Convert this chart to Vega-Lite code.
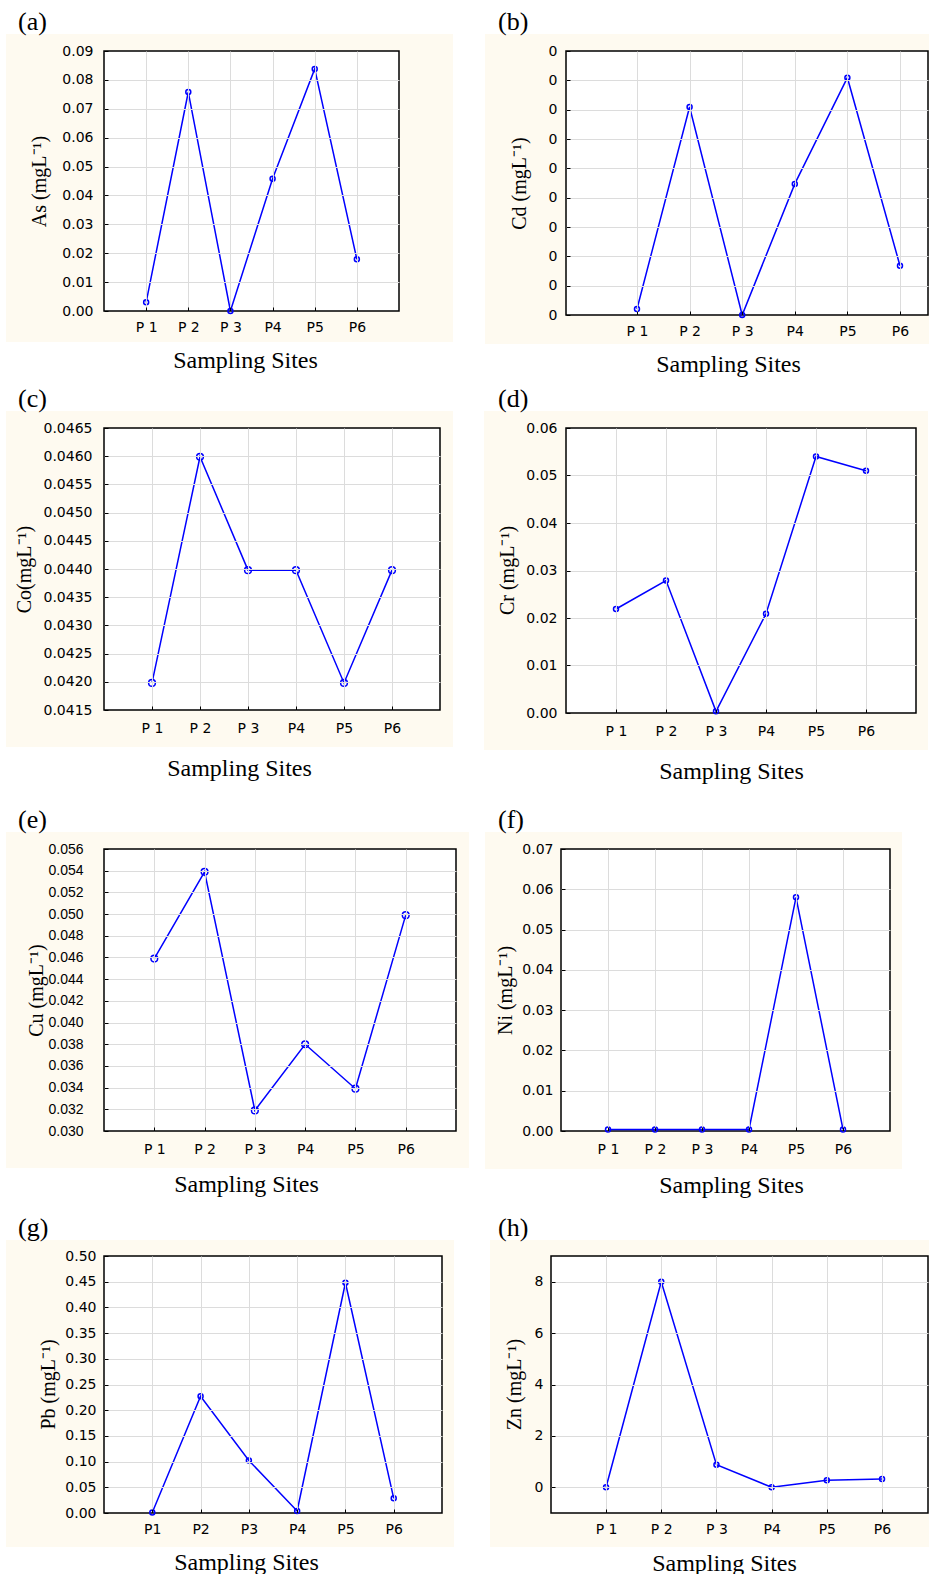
{
"$schema": "https://vega.github.io/schema/vega-lite/v6.json",
"background": "white",
"padding": {"left": 5, "top": 8, "right": 0, "bottom": 0},
"config": {
  "view": {"stroke": null, "fill": null},
  "axis": {"labelFont": "DejaVu Sans", "labelFontSize": 14, "labelColor": "#000000", "titleFont": "Liberation Serif", "titleFontWeight": "normal", "titleColor": "#000000", "gridColor": "#dcdcdc", "gridWidth": 1, "domain": false, "ticks": true, "tickSize": -4, "tickColor": "#000000", "tickWidth": 1, "labelOverlap": false, "labelFlush": false, "labelBound": false},
  "title": {"font": "Liberation Serif", "fontSize": 26, "fontWeight": "normal", "color": "#000000", "anchor": "start", "frame": "group", "baseline": "alphabetic", "offset": -1}
},
"spacing": 9,
"bounds": "full",
"vconcat": [
 {"spacing": 167, "bounds": "flush", "hconcat": [
  {"width": 295, "height": 260, "title": {"text": "(a)", "dx": -86},
   "data": {"values": [{"site":"P 1","As":0.003},{"site":"P 2","As":0.0758},{"site":"P 3","As":0},{"site":"P4","As":0.0458},{"site":"P5","As":0.0838},{"site":"P6","As":0.0179}]},
   "resolve": {"scale": {"x": "independent"}},
   "layer": [
    {"data": {"values": [{}]}, "layer": [
      {"mark": {"type": "rect", "fill": "#fefaf0"}, "encoding": {
        "x": {"datum": -0.3322, "type": "quantitative", "scale": {"domain": [0, 1], "nice": false, "zero": false}, "axis": null},
        "x2": {"datum": 1.1831},
        "y": {"datum": -0.01073, "type": "quantitative", "scale": {"domain": [0, 0.09], "nice": false, "zero": false},
              "axis": {"title": "As (mgL⁻¹)", "titleFontSize": 20, "titleAngle": 270, "titleX": -59, "titleY": 130, "titleAlign": "center", "titleBaseline": "alphabetic", "values": [0,0.01,0.02,0.03,0.04,0.05,0.06,0.07,0.08,0.09], "format": ".2f", "labelPadding": 15, "labelOverlap": false, "labelBaseline": "middle", "grid": true, "gridOpacity": {"condition": {"test": "datum.value < 0.0001 || datum.value > 0.0899", "value": 0}, "value": 1}, "zindex": 1}},
        "y2": {"datum": 0.09588}}},
      {"mark": {"type": "rect", "fill": "white", "stroke": "black", "strokeWidth": 1.5}, "encoding": {
        "x": {"datum": 0, "type": "quantitative", "scale": {"domain": [0, 1], "nice": false, "zero": false}, "axis": null},
        "x2": {"datum": 1},
        "y": {"datum": 0, "type": "quantitative", "scale": {"domain": [0, 0.09], "nice": false, "zero": false},
              "axis": {"title": "As (mgL⁻¹)", "titleFontSize": 20, "titleAngle": 270, "titleX": -59, "titleY": 130, "titleAlign": "center", "titleBaseline": "alphabetic", "values": [0,0.01,0.02,0.03,0.04,0.05,0.06,0.07,0.08,0.09], "format": ".2f", "labelPadding": 15, "labelOverlap": false, "labelBaseline": "middle", "grid": true, "gridOpacity": {"condition": {"test": "datum.value < 0.0001 || datum.value > 0.0899", "value": 0}, "value": 1}, "zindex": 1}},
        "y2": {"datum": 0.09}}}
    ]},
    {"encoding": {
      "x": {"field": "site", "type": "ordinal", "sort": null, "scale": {"type": "point", "padding": 1, "align": 0.5},
            "axis": {"title": "Sampling Sites", "titleFontSize": 24, "titleX": 141, "titleY": 37, "titleAlign": "center", "titleBaseline": "top", "labelAngle": 0, "labelPadding": 13, "labelOverlap": false, "grid": true, "zindex": 1}},
      "y": {"field": "As", "type": "quantitative", "scale": {"domain": [0, 0.09], "nice": false, "zero": false},
            "axis": {"title": "As (mgL⁻¹)", "titleFontSize": 20, "titleAngle": 270, "titleX": -59, "titleY": 130, "titleAlign": "center", "titleBaseline": "alphabetic", "values": [0,0.01,0.02,0.03,0.04,0.05,0.06,0.07,0.08,0.09], "format": ".2f", "labelPadding": 15, "labelOverlap": false, "labelBaseline": "middle", "grid": true, "gridOpacity": {"condition": {"test": "datum.value < 0.0001 || datum.value > 0.0899", "value": 0}, "value": 1}, "zindex": 1}}},
     "layer": [
      {"mark": {"type": "line", "color": "#0000ff", "strokeWidth": 1.5}},
      {"mark": {"type": "point", "shape": "circle", "filled": false, "color": "#0000ff", "strokeWidth": 1.5, "size": 25, "opacity": 1}}
     ]}
   ]},
  {"width": 362, "height": 264, "title": {"text": "(b)", "dx": -68},
   "data": {"values": [{"site":"P 1","Cd":0.000205},{"site":"P 2","Cd":0.00709},{"site":"P 3","Cd":0},{"site":"P4","Cd":0.00447},{"site":"P5","Cd":0.00809},{"site":"P6","Cd":0.00168}]},
   "resolve": {"scale": {"x": "independent"}},
   "layer": [
    {"data": {"values": [{}]}, "layer": [
      {"mark": {"type": "rect", "fill": "#fefaf0"}, "encoding": {
        "x": {"datum": -0.2238, "type": "quantitative", "scale": {"domain": [0, 1], "nice": false, "zero": false}, "axis": null},
        "x2": {"datum": 1.0055},
        "y": {"datum": -0.000989, "type": "quantitative", "scale": {"domain": [0, 0.009], "nice": false, "zero": false},
              "axis": {"title": "Cd (mgL⁻¹)", "titleFontSize": 20, "titleAngle": 270, "titleX": -41, "titleY": 132, "titleAlign": "center", "titleBaseline": "alphabetic", "values": [0,0.001,0.002,0.003,0.004,0.005,0.006,0.007,0.008,0.009], "format": ".0f", "labelPadding": 13, "labelOverlap": false, "labelBaseline": "middle", "grid": true, "gridOpacity": {"condition": {"test": "datum.value < 0.00001 || datum.value > 0.00899", "value": 0}, "value": 1}, "zindex": 1}},
        "y2": {"datum": 0.00958}}},
      {"mark": {"type": "rect", "fill": "white", "stroke": "black", "strokeWidth": 1.5}, "encoding": {
        "x": {"datum": 0, "type": "quantitative", "scale": {"domain": [0, 1], "nice": false, "zero": false}, "axis": null},
        "x2": {"datum": 1},
        "y": {"datum": 0, "type": "quantitative", "scale": {"domain": [0, 0.009], "nice": false, "zero": false},
              "axis": {"title": "Cd (mgL⁻¹)", "titleFontSize": 20, "titleAngle": 270, "titleX": -41, "titleY": 132, "titleAlign": "center", "titleBaseline": "alphabetic", "values": [0,0.001,0.002,0.003,0.004,0.005,0.006,0.007,0.008,0.009], "format": ".0f", "labelPadding": 13, "labelOverlap": false, "labelBaseline": "middle", "grid": true, "gridOpacity": {"condition": {"test": "datum.value < 0.00001 || datum.value > 0.00899", "value": 0}, "value": 1}, "zindex": 1}},
        "y2": {"datum": 0.009}}}
    ]},
    {"encoding": {
      "x": {"field": "site", "type": "ordinal", "sort": null, "scale": {"type": "point", "padding": 0.941, "align": 0.717},
            "axis": {"title": "Sampling Sites", "titleFontSize": 24, "titleX": 162, "titleY": 37, "titleAlign": "center", "titleBaseline": "top", "labelAngle": 0, "labelPadding": 13, "labelOverlap": false, "grid": true, "zindex": 1}},
      "y": {"field": "Cd", "type": "quantitative", "scale": {"domain": [0, 0.009], "nice": false, "zero": false},
            "axis": {"title": "Cd (mgL⁻¹)", "titleFontSize": 20, "titleAngle": 270, "titleX": -41, "titleY": 132, "titleAlign": "center", "titleBaseline": "alphabetic", "values": [0,0.001,0.002,0.003,0.004,0.005,0.006,0.007,0.008,0.009], "format": ".0f", "labelPadding": 13, "labelOverlap": false, "labelBaseline": "middle", "grid": true, "gridOpacity": {"condition": {"test": "datum.value < 0.00001 || datum.value > 0.00899", "value": 0}, "value": 1}, "zindex": 1}}},
     "layer": [
      {"mark": {"type": "line", "color": "#0000ff", "strokeWidth": 1.5}},
      {"mark": {"type": "point", "shape": "circle", "filled": false, "color": "#0000ff", "strokeWidth": 1.5, "size": 25, "opacity": 1}}
     ]}
   ]}
 ]},
 {"spacing": 126, "bounds": "flush", "hconcat": [
  {"width": 336, "height": 282, "title": {"text": "(c)", "dx": -86},
   "data": {"values": [{"site":"P 1","Co":0.04198},{"site":"P 2","Co":0.04599},{"site":"P 3","Co":0.04398},{"site":"P4","Co":0.04398},{"site":"P5","Co":0.04198},{"site":"P6","Co":0.04398}]},
   "resolve": {"scale": {"x": "independent"}},
   "layer": [
    {"data": {"values": [{}]}, "layer": [
      {"mark": {"type": "rect", "fill": "#fefaf0"}, "encoding": {
        "x": {"datum": -0.2917, "type": "quantitative", "scale": {"domain": [0, 1], "nice": false, "zero": false}, "axis": null},
        "x2": {"datum": 1.0387},
        "y": {"datum": 0.040844, "type": "quantitative", "scale": {"domain": [0.0415, 0.0465], "nice": false, "zero": false},
              "axis": {"title": "Co(mgL⁻¹)", "titleFontSize": 20, "titleAngle": 270, "titleX": -74, "titleY": 141, "titleAlign": "center", "titleBaseline": "alphabetic", "values": [0.0415,0.042,0.0425,0.043,0.0435,0.044,0.0445,0.045,0.0455,0.046,0.0465], "format": ".4f", "labelPadding": 16, "labelOverlap": false, "labelBaseline": "middle", "grid": true, "gridOpacity": {"condition": {"test": "datum.value < 0.04151 || datum.value > 0.04649", "value": 0}, "value": 1}, "zindex": 1}},
        "y2": {"datum": 0.046801}}},
      {"mark": {"type": "rect", "fill": "white", "stroke": "black", "strokeWidth": 1.5}, "encoding": {
        "x": {"datum": 0, "type": "quantitative", "scale": {"domain": [0, 1], "nice": false, "zero": false}, "axis": null},
        "x2": {"datum": 1},
        "y": {"datum": 0.0415, "type": "quantitative", "scale": {"domain": [0.0415, 0.0465], "nice": false, "zero": false},
              "axis": {"title": "Co(mgL⁻¹)", "titleFontSize": 20, "titleAngle": 270, "titleX": -74, "titleY": 141, "titleAlign": "center", "titleBaseline": "alphabetic", "values": [0.0415,0.042,0.0425,0.043,0.0435,0.044,0.0445,0.045,0.0455,0.046,0.0465], "format": ".4f", "labelPadding": 16, "labelOverlap": false, "labelBaseline": "middle", "grid": true, "gridOpacity": {"condition": {"test": "datum.value < 0.04151 || datum.value > 0.04649", "value": 0}, "value": 1}, "zindex": 1}},
        "y2": {"datum": 0.0465}}}
    ]},
    {"encoding": {
      "x": {"field": "site", "type": "ordinal", "sort": null, "scale": {"type": "point", "padding": 1, "align": 0.5},
            "axis": {"title": "Sampling Sites", "titleFontSize": 24, "titleX": 135, "titleY": 46, "titleAlign": "center", "titleBaseline": "top", "labelAngle": 0, "labelPadding": 15, "labelOverlap": false, "grid": true, "zindex": 1}},
      "y": {"field": "Co", "type": "quantitative", "scale": {"domain": [0.0415, 0.0465], "nice": false, "zero": false},
            "axis": {"title": "Co(mgL⁻¹)", "titleFontSize": 20, "titleAngle": 270, "titleX": -74, "titleY": 141, "titleAlign": "center", "titleBaseline": "alphabetic", "values": [0.0415,0.042,0.0425,0.043,0.0435,0.044,0.0445,0.045,0.0455,0.046,0.0465], "format": ".4f", "labelPadding": 16, "labelOverlap": false, "labelBaseline": "middle", "grid": true, "gridOpacity": {"condition": {"test": "datum.value < 0.04151 || datum.value > 0.04649", "value": 0}, "value": 1}, "zindex": 1}}},
     "layer": [
      {"mark": {"type": "line", "color": "#0000ff", "strokeWidth": 1.5}},
      {"mark": {"type": "point", "shape": "circle", "filled": false, "color": "#0000ff", "strokeWidth": 1.5, "size": 45, "opacity": 1}}
     ]}
   ]},
  {"width": 350, "height": 285, "title": {"text": "(d)", "dx": -68},
   "data": {"values": [{"site":"P 1","Cr":0.0219},{"site":"P 2","Cr":0.0279},{"site":"P 3","Cr":0.00035},{"site":"P4","Cr":0.0209},{"site":"P5","Cr":0.054},{"site":"P6","Cr":0.051}]},
   "resolve": {"scale": {"x": "independent"}},
   "layer": [
    {"data": {"values": [{}]}, "layer": [
      {"mark": {"type": "rect", "fill": "#fefaf0"}, "encoding": {
        "x": {"datum": -0.2343, "type": "quantitative", "scale": {"domain": [0, 1], "nice": false, "zero": false}, "axis": null},
        "x2": {"datum": 1.0343},
        "y": {"datum": -0.007789, "type": "quantitative", "scale": {"domain": [0, 0.06], "nice": false, "zero": false},
              "axis": {"title": "Cr (mgL⁻¹)", "titleFontSize": 20, "titleAngle": 270, "titleX": -53, "titleY": 142, "titleAlign": "center", "titleBaseline": "alphabetic", "values": [0,0.01,0.02,0.03,0.04,0.05,0.06], "format": ".2f", "labelPadding": 13, "labelOverlap": false, "labelBaseline": "middle", "grid": true, "gridOpacity": {"condition": {"test": "datum.value < 0.0001 || datum.value > 0.0599", "value": 0}, "value": 1}, "zindex": 1}},
        "y2": {"datum": 0.063579}}},
      {"mark": {"type": "rect", "fill": "white", "stroke": "black", "strokeWidth": 1.5}, "encoding": {
        "x": {"datum": 0, "type": "quantitative", "scale": {"domain": [0, 1], "nice": false, "zero": false}, "axis": null},
        "x2": {"datum": 1},
        "y": {"datum": 0, "type": "quantitative", "scale": {"domain": [0, 0.06], "nice": false, "zero": false},
              "axis": {"title": "Cr (mgL⁻¹)", "titleFontSize": 20, "titleAngle": 270, "titleX": -53, "titleY": 142, "titleAlign": "center", "titleBaseline": "alphabetic", "values": [0,0.01,0.02,0.03,0.04,0.05,0.06], "format": ".2f", "labelPadding": 13, "labelOverlap": false, "labelBaseline": "middle", "grid": true, "gridOpacity": {"condition": {"test": "datum.value < 0.0001 || datum.value > 0.0599", "value": 0}, "value": 1}, "zindex": 1}},
        "y2": {"datum": 0.06}}}
    ]},
    {"encoding": {
      "x": {"field": "site", "type": "ordinal", "sort": null, "scale": {"type": "point", "padding": 1, "align": 0.5},
            "axis": {"title": ["Sampling Sites", ""], "titleLineHeight": 14, "titleFontSize": 24, "titleX": 165, "titleY": 46, "titleAlign": "center", "titleBaseline": "top", "labelAngle": 0, "labelPadding": 15, "labelOverlap": false, "grid": true, "zindex": 1}},
      "y": {"field": "Cr", "type": "quantitative", "scale": {"domain": [0, 0.06], "nice": false, "zero": false},
            "axis": {"title": "Cr (mgL⁻¹)", "titleFontSize": 20, "titleAngle": 270, "titleX": -53, "titleY": 142, "titleAlign": "center", "titleBaseline": "alphabetic", "values": [0,0.01,0.02,0.03,0.04,0.05,0.06], "format": ".2f", "labelPadding": 13, "labelOverlap": false, "labelBaseline": "middle", "grid": true, "gridOpacity": {"condition": {"test": "datum.value < 0.0001 || datum.value > 0.0599", "value": 0}, "value": 1}, "zindex": 1}}},
     "layer": [
      {"mark": {"type": "line", "color": "#0000ff", "strokeWidth": 1.5}},
      {"mark": {"type": "point", "shape": "circle", "filled": false, "color": "#0000ff", "strokeWidth": 1.5, "size": 25, "opacity": 1}}
     ]}
   ]}
 ]},
 {"spacing": 105, "bounds": "flush", "hconcat": [
  {"width": 352, "height": 282, "title": {"text": "(e)", "dx": -86},
   "data": {"values": [{"site":"P 1","Cu":0.0459},{"site":"P 2","Cu":0.0539},{"site":"P 3","Cu":0.0319},{"site":"P4","Cu":0.038},{"site":"P5","Cu":0.0339},{"site":"P6","Cu":0.0499}]},
   "resolve": {"scale": {"x": "independent"}},
   "layer": [
    {"data": {"values": [{}]}, "layer": [
      {"mark": {"type": "rect", "fill": "#fefaf0"}, "encoding": {
        "x": {"datum": -0.2784, "type": "quantitative", "scale": {"domain": [0, 1], "nice": false, "zero": false}, "axis": null},
        "x2": {"datum": 1.0369},
        "y": {"datum": 0.026589, "type": "quantitative", "scale": {"domain": [0.03, 0.056], "nice": false, "zero": false},
              "axis": {"title": "Cu (mgL⁻¹)", "titleFontSize": 20, "titleAngle": 270, "titleX": -62, "titleY": 141, "titleAlign": "center", "titleBaseline": "alphabetic", "values": [0.03,0.032,0.034,0.036,0.038,0.04,0.042,0.044,0.046,0.048,0.05,0.052,0.054,0.056], "format": ".3f", "labelFont": "Liberation Sans", "labelFontSize": 14, "labelPadding": 25, "labelOverlap": false, "labelBaseline": "middle", "grid": true, "gridOpacity": {"condition": {"test": "datum.value < 0.03001 || datum.value > 0.05599", "value": 0}, "value": 1}, "zindex": 1}},
        "y2": {"datum": 0.057567}}},
      {"mark": {"type": "rect", "fill": "white", "stroke": "black", "strokeWidth": 1.5}, "encoding": {
        "x": {"datum": 0, "type": "quantitative", "scale": {"domain": [0, 1], "nice": false, "zero": false}, "axis": null},
        "x2": {"datum": 1},
        "y": {"datum": 0.03, "type": "quantitative", "scale": {"domain": [0.03, 0.056], "nice": false, "zero": false},
              "axis": {"title": "Cu (mgL⁻¹)", "titleFontSize": 20, "titleAngle": 270, "titleX": -62, "titleY": 141, "titleAlign": "center", "titleBaseline": "alphabetic", "values": [0.03,0.032,0.034,0.036,0.038,0.04,0.042,0.044,0.046,0.048,0.05,0.052,0.054,0.056], "format": ".3f", "labelFont": "Liberation Sans", "labelFontSize": 14, "labelPadding": 25, "labelOverlap": false, "labelBaseline": "middle", "grid": true, "gridOpacity": {"condition": {"test": "datum.value < 0.03001 || datum.value > 0.05599", "value": 0}, "value": 1}, "zindex": 1}},
        "y2": {"datum": 0.056}}}
    ]},
    {"encoding": {
      "x": {"field": "site", "type": "ordinal", "sort": null, "scale": {"type": "point", "padding": 1, "align": 0.5},
            "axis": {"title": "Sampling Sites", "titleFontSize": 24, "titleX": 142, "titleY": 41, "titleAlign": "center", "titleBaseline": "top", "labelAngle": 0, "labelPadding": 15, "labelOverlap": false, "grid": true, "zindex": 1}},
      "y": {"field": "Cu", "type": "quantitative", "scale": {"domain": [0.03, 0.056], "nice": false, "zero": false},
            "axis": {"title": "Cu (mgL⁻¹)", "titleFontSize": 20, "titleAngle": 270, "titleX": -62, "titleY": 141, "titleAlign": "center", "titleBaseline": "alphabetic", "values": [0.03,0.032,0.034,0.036,0.038,0.04,0.042,0.044,0.046,0.048,0.05,0.052,0.054,0.056], "format": ".3f", "labelFont": "Liberation Sans", "labelFontSize": 14, "labelPadding": 25, "labelOverlap": false, "labelBaseline": "middle", "grid": true, "gridOpacity": {"condition": {"test": "datum.value < 0.03001 || datum.value > 0.05599", "value": 0}, "value": 1}, "zindex": 1}}},
     "layer": [
      {"mark": {"type": "line", "color": "#0000ff", "strokeWidth": 1.5}},
      {"mark": {"type": "point", "shape": "circle", "filled": false, "color": "#0000ff", "strokeWidth": 1.5, "size": 45, "opacity": 1}}
     ]}
   ]},
  {"width": 329, "height": 282, "title": {"text": "(f)", "dx": -63},
   "data": {"values": [{"site":"P 1","Ni":0.0004},{"site":"P 2","Ni":0.0004},{"site":"P 3","Ni":0.0004},{"site":"P4","Ni":0.0004},{"site":"P5","Ni":0.058},{"site":"P6","Ni":0.0004}]},
   "resolve": {"scale": {"x": "independent"}},
   "layer": [
    {"data": {"values": [{}]}, "layer": [
      {"mark": {"type": "rect", "fill": "#fefaf0"}, "encoding": {
        "x": {"datum": -0.231, "type": "quantitative", "scale": {"domain": [0, 1], "nice": false, "zero": false}, "axis": null},
        "x2": {"datum": 1.0365},
        "y": {"datum": -0.009433, "type": "quantitative", "scale": {"domain": [0, 0.07], "nice": false, "zero": false},
              "axis": {"title": "Ni (mgL⁻¹)", "titleFontSize": 20, "titleAngle": 270, "titleX": -50, "titleY": 141, "titleAlign": "center", "titleBaseline": "alphabetic", "values": [0,0.01,0.02,0.03,0.04,0.05,0.06,0.07], "format": ".2f", "labelPadding": 12, "labelOverlap": false, "labelBaseline": "middle", "grid": true, "gridOpacity": {"condition": {"test": "datum.value < 0.0001 || datum.value > 0.0699", "value": 0}, "value": 1}, "zindex": 1}},
        "y2": {"datum": 0.07422}}},
      {"mark": {"type": "rect", "fill": "white", "stroke": "black", "strokeWidth": 1.5}, "encoding": {
        "x": {"datum": 0, "type": "quantitative", "scale": {"domain": [0, 1], "nice": false, "zero": false}, "axis": null},
        "x2": {"datum": 1},
        "y": {"datum": 0, "type": "quantitative", "scale": {"domain": [0, 0.07], "nice": false, "zero": false},
              "axis": {"title": "Ni (mgL⁻¹)", "titleFontSize": 20, "titleAngle": 270, "titleX": -50, "titleY": 141, "titleAlign": "center", "titleBaseline": "alphabetic", "values": [0,0.01,0.02,0.03,0.04,0.05,0.06,0.07], "format": ".2f", "labelPadding": 12, "labelOverlap": false, "labelBaseline": "middle", "grid": true, "gridOpacity": {"condition": {"test": "datum.value < 0.0001 || datum.value > 0.0699", "value": 0}, "value": 1}, "zindex": 1}},
        "y2": {"datum": 0.07}}}
    ]},
    {"encoding": {
      "x": {"field": "site", "type": "ordinal", "sort": null, "scale": {"type": "point", "padding": 1, "align": 0.5},
            "axis": {"title": ["Sampling Sites", ""], "titleLineHeight": 8, "titleFontSize": 24, "titleX": 170, "titleY": 42, "titleAlign": "center", "titleBaseline": "top", "labelAngle": 0, "labelPadding": 15, "labelOverlap": false, "grid": true, "zindex": 1}},
      "y": {"field": "Ni", "type": "quantitative", "scale": {"domain": [0, 0.07], "nice": false, "zero": false},
            "axis": {"title": "Ni (mgL⁻¹)", "titleFontSize": 20, "titleAngle": 270, "titleX": -50, "titleY": 141, "titleAlign": "center", "titleBaseline": "alphabetic", "values": [0,0.01,0.02,0.03,0.04,0.05,0.06,0.07], "format": ".2f", "labelPadding": 12, "labelOverlap": false, "labelBaseline": "middle", "grid": true, "gridOpacity": {"condition": {"test": "datum.value < 0.0001 || datum.value > 0.0699", "value": 0}, "value": 1}, "zindex": 1}}},
     "layer": [
      {"mark": {"type": "line", "color": "#0000ff", "strokeWidth": 1.5}},
      {"mark": {"type": "point", "shape": "circle", "filled": false, "color": "#0000ff", "strokeWidth": 1.5, "size": 25, "opacity": 1}}
     ]}
   ]}
 ]},
 {"spacing": 109, "bounds": "flush", "hconcat": [
  {"width": 338, "height": 257, "title": {"text": "(g)", "dx": -86},
   "data": {"values": [{"site":"P1","Pb":0.001},{"site":"P2","Pb":0.227},{"site":"P3","Pb":0.102},{"site":"P4","Pb":0.004},{"site":"P5","Pb":0.448},{"site":"P6","Pb":0.0285}]},
   "resolve": {"scale": {"x": "independent"}},
   "layer": [
    {"data": {"values": [{}]}, "layer": [
      {"mark": {"type": "rect", "fill": "#fefaf0"}, "encoding": {
        "x": {"datum": -0.2899, "type": "quantitative", "scale": {"domain": [0, 1], "nice": false, "zero": false}, "axis": null},
        "x2": {"datum": 1.0355},
        "y": {"datum": -0.06615, "type": "quantitative", "scale": {"domain": [0, 0.5], "nice": false, "zero": false},
              "axis": {"title": "Pb (mgL⁻¹)", "titleFontSize": 20, "titleAngle": 270, "titleX": -50, "titleY": 128, "titleAlign": "center", "titleBaseline": "alphabetic", "values": [0,0.05,0.1,0.15,0.2,0.25,0.3,0.35,0.4,0.45,0.5], "format": ".2f", "labelPadding": 12, "labelOverlap": false, "labelBaseline": "middle", "grid": true, "gridOpacity": {"condition": {"test": "datum.value < 0.0001 || datum.value > 0.4999", "value": 0}, "value": 1}, "zindex": 1}},
        "y2": {"datum": 0.53113}}},
      {"mark": {"type": "rect", "fill": "white", "stroke": "black", "strokeWidth": 1.5}, "encoding": {
        "x": {"datum": 0, "type": "quantitative", "scale": {"domain": [0, 1], "nice": false, "zero": false}, "axis": null},
        "x2": {"datum": 1},
        "y": {"datum": 0, "type": "quantitative", "scale": {"domain": [0, 0.5], "nice": false, "zero": false},
              "axis": {"title": "Pb (mgL⁻¹)", "titleFontSize": 20, "titleAngle": 270, "titleX": -50, "titleY": 128, "titleAlign": "center", "titleBaseline": "alphabetic", "values": [0,0.05,0.1,0.15,0.2,0.25,0.3,0.35,0.4,0.45,0.5], "format": ".2f", "labelPadding": 12, "labelOverlap": false, "labelBaseline": "middle", "grid": true, "gridOpacity": {"condition": {"test": "datum.value < 0.0001 || datum.value > 0.4999", "value": 0}, "value": 1}, "zindex": 1}},
        "y2": {"datum": 0.5}}}
    ]},
    {"encoding": {
      "x": {"field": "site", "type": "ordinal", "sort": null, "scale": {"type": "point", "padding": 1, "align": 0.5},
            "axis": {"title": "Sampling Sites", "titleFontSize": 24, "titleX": 142, "titleY": 37, "titleAlign": "center", "titleBaseline": "top", "labelAngle": 0, "labelPadding": 13, "labelOverlap": false, "grid": true, "zindex": 1}},
      "y": {"field": "Pb", "type": "quantitative", "scale": {"domain": [0, 0.5], "nice": false, "zero": false},
            "axis": {"title": "Pb (mgL⁻¹)", "titleFontSize": 20, "titleAngle": 270, "titleX": -50, "titleY": 128, "titleAlign": "center", "titleBaseline": "alphabetic", "values": [0,0.05,0.1,0.15,0.2,0.25,0.3,0.35,0.4,0.45,0.5], "format": ".2f", "labelPadding": 12, "labelOverlap": false, "labelBaseline": "middle", "grid": true, "gridOpacity": {"condition": {"test": "datum.value < 0.0001 || datum.value > 0.4999", "value": 0}, "value": 1}, "zindex": 1}}},
     "layer": [
      {"mark": {"type": "line", "color": "#0000ff", "strokeWidth": 1.5}},
      {"mark": {"type": "point", "shape": "circle", "filled": false, "color": "#0000ff", "strokeWidth": 1.5, "size": 25, "opacity": 1}}
     ]}
   ]},
  {"width": 377, "height": 257, "title": {"text": "(h)", "dx": -53},
   "data": {"values": [{"site":"P 1","Zn":0},{"site":"P 2","Zn":8.0},{"site":"P 3","Zn":0.88},{"site":"P4","Zn":0},{"site":"P5","Zn":0.27},{"site":"P6","Zn":0.32}]},
   "resolve": {"scale": {"x": "independent"}},
   "layer": [
    {"data": {"values": [{}]}, "layer": [
      {"mark": {"type": "rect", "fill": "#fefaf0"}, "encoding": {
        "x": {"datum": -0.1618, "type": "quantitative", "scale": {"domain": [0, 1], "nice": false, "zero": false}, "axis": null},
        "x2": {"datum": 1.0053},
        "y": {"datum": -2.323, "type": "quantitative", "scale": {"domain": [-1, 9], "nice": false, "zero": false},
              "axis": {"title": "Zn (mgL⁻¹)", "titleFontSize": 20, "titleAngle": 270, "titleX": -31, "titleY": 128, "titleAlign": "center", "titleBaseline": "alphabetic", "values": [0,2,4,6,8], "format": "d", "labelPadding": 12, "labelOverlap": false, "labelBaseline": "middle", "grid": true, "zindex": 1}},
        "y2": {"datum": 9.6226}}},
      {"mark": {"type": "rect", "fill": "white", "stroke": "black", "strokeWidth": 1.5}, "encoding": {
        "x": {"datum": 0, "type": "quantitative", "scale": {"domain": [0, 1], "nice": false, "zero": false}, "axis": null},
        "x2": {"datum": 1},
        "y": {"datum": -1, "type": "quantitative", "scale": {"domain": [-1, 9], "nice": false, "zero": false},
              "axis": {"title": "Zn (mgL⁻¹)", "titleFontSize": 20, "titleAngle": 270, "titleX": -31, "titleY": 128, "titleAlign": "center", "titleBaseline": "alphabetic", "values": [0,2,4,6,8], "format": "d", "labelPadding": 12, "labelOverlap": false, "labelBaseline": "middle", "grid": true, "zindex": 1}},
        "y2": {"datum": 9}}}
    ]},
    {"encoding": {
      "x": {"field": "site", "type": "ordinal", "sort": null, "scale": {"type": "point", "padding": 0.915, "align": 0.545},
            "axis": {"title": "Sampling Sites", "titleFontSize": 24, "titleX": 173, "titleY": 38, "titleAlign": "center", "titleBaseline": "top", "labelAngle": 0, "labelPadding": 13, "labelOverlap": false, "grid": true, "zindex": 1}},
      "y": {"field": "Zn", "type": "quantitative", "scale": {"domain": [-1, 9], "nice": false, "zero": false},
            "axis": {"title": "Zn (mgL⁻¹)", "titleFontSize": 20, "titleAngle": 270, "titleX": -31, "titleY": 128, "titleAlign": "center", "titleBaseline": "alphabetic", "values": [0,2,4,6,8], "format": "d", "labelPadding": 12, "labelOverlap": false, "labelBaseline": "middle", "grid": true, "zindex": 1}}},
     "layer": [
      {"mark": {"type": "line", "color": "#0000ff", "strokeWidth": 1.5}},
      {"mark": {"type": "point", "shape": "circle", "filled": false, "color": "#0000ff", "strokeWidth": 1.5, "size": 25, "opacity": 1}}
     ]}
   ]}
 ]}
]
}
